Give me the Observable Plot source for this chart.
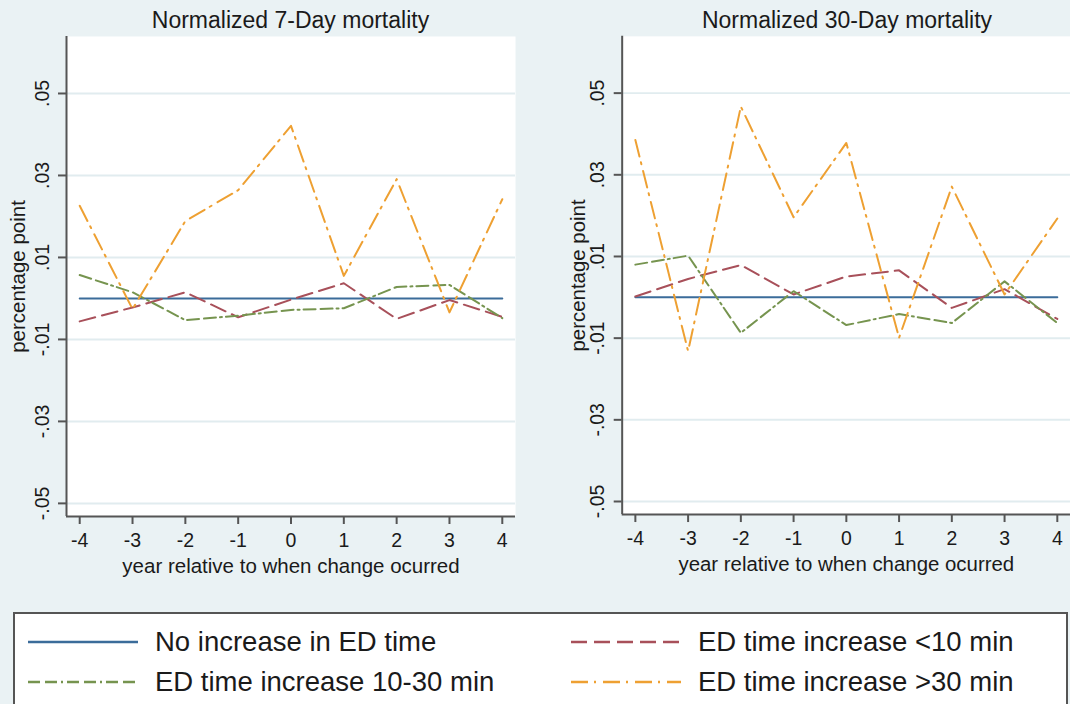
<!DOCTYPE html>
<html>
<head>
<meta charset="utf-8">
<script src="https://cdn.jsdelivr.net/npm/d3@7"></script>
<script src="https://cdn.jsdelivr.net/npm/@observablehq/plot@0.6"></script>
<style>
  html, body { margin: 0; padding: 0; background: #eaf2f4; }
  #wrap { position: relative; width: 1070px; height: 704px; overflow: hidden; background: #eaf2f4;
          font-family: "Liberation Sans", Arial, Helvetica, sans-serif; color: #1a1a1a; }
  .panel { position: absolute; top: 0; }
  .title { position: absolute; top: 7px; font-size: 23px; text-align: center; white-space: nowrap; }
  #legend { position: absolute; left: 13px; top: 612px; width: 1055px; height: 110px; background: #fff;
            border: 2px solid #555; box-sizing: border-box; }
  .item { position: absolute; display: flex; align-items: center; font-size: 27.5px; white-space: nowrap; }
  .item svg { margin-right: 16px; }
</style>
</head>
<body>
<div id="wrap">
  <div class="title" id="t1"></div>
  <div class="title" id="t2"></div>
  <div class="panel" id="p1" style="left:0px"></div>
  <div class="panel" id="p2" style="left:535px"></div>
  <div id="legend"></div>
</div>
<script>
// ---------- data ----------
const years = [-4, -3, -2, -1, 0, 1, 2, 3, 4];
const seriesNames = ["No increase in ED time", "ED time increase <10 min", "ED time increase 10-30 min", "ED time increase >30 min"];
const panelTitles = ["Normalized 7-Day mortality", "Normalized 30-Day mortality"];
const yTicks = [0.05, 0.03, 0.01, -0.01, -0.03, -0.05];
const xLabel = "year relative to when change ocurred";
const yLabel = "percentage point";

// 7-day mortality
const d7None  = [0, 0, 0, 0, 0, 0, 0, 0, 0];
const d7Lt10  = [-0.0056, -0.0022, 0.0015, -0.0046, -0.0003, 0.0037, -0.0050, -0.0004, -0.0045];
const d7Mid   = [0.0057, 0.0015, -0.0053, -0.0042, -0.0028, -0.0024, 0.0028, 0.0033, -0.0048];
const d7Gt30  = [0.0226, -0.0026, 0.0189, 0.0264, 0.0421, 0.0055, 0.0291, -0.0034, 0.0242];

// 30-day mortality
const d30None = [0, 0, 0, 0, 0, 0, 0, 0, 0];
const d30Lt10 = [0.0002, 0.0045, 0.0079, 0.0007, 0.0051, 0.0066, -0.0026, 0.0020, -0.0053];
const d30Mid  = [0.0080, 0.0102, -0.0087, 0.0015, -0.0068, -0.0041, -0.0063, 0.0039, -0.0063];
const d30Gt30 = [0.0385, -0.0132, 0.0467, 0.0196, 0.0378, -0.0099, 0.0271, 0.0007, 0.0193];

// ---------- styles ----------
const colors = ["#3b6c9a", "#a8505a", "#76944f", "#eea032"];
const dashes = [null, "16,7", "12,5,12,4,2,4", "17,6,2,7"];
const xDomain = [-4.25, 4.25];
const yDomain = [-0.0532, 0.0639];
const fmt = d => (d < 0 ? "-" : "") + Math.abs(d).toFixed(2).replace(/^0/, "");

function panel(seriesValues, opts) {
  const marks = [
    Plot.frame({fill: "white", stroke: null}),
    Plot.ruleY(yTicks, {stroke: "#e1ecef", strokeWidth: 2}),
    Plot.ruleX([xDomain[0]], {stroke: "#555", strokeWidth: 2}),
    Plot.ruleY([yDomain[0]], {stroke: "#555", strokeWidth: 2}),
    Plot.axisX({ticks: years, tickSize: 8, tickPadding: 9, fontSize: 19.5, tickFormat: d => String(d), label: null, stroke: "#555", strokeWidth: 2}),
    Plot.axisY({ticks: yTicks, tickSize: 8, tickFormat: () => "", label: null, stroke: "#555", strokeWidth: 2}),
    Plot.text(yTicks, {y: d => d, text: fmt, frameAnchor: "left", dx: -24, rotate: -90, textAnchor: "middle", lineAnchor: "middle", fontSize: 19.5, fill: "#1a1a1a"}),
    Plot.text([yLabel], {text: d => d, frameAnchor: "left", dx: opts.yLabelOffset, rotate: -90, textAnchor: "middle", lineAnchor: "middle", fontSize: 20.5, fill: "#1a1a1a"}),
    Plot.text([xLabel], {text: d => d, frameAnchor: "bottom", dy: 50, textAnchor: "middle", lineAnchor: "middle", fontSize: 20.5, fill: "#1a1a1a"})
  ];
  seriesValues.forEach((vals, i) => {
    const rows = years.map((yr, j) => ({year: yr, value: vals[j]}));
    marks.push(Plot.line(rows, {x: "year", y: "value", stroke: colors[i], strokeWidth: 2,
      strokeDasharray: dashes[i] ?? undefined}));
  });
  return Plot.plot({
    width: opts.width, height: 580,
    marginLeft: opts.marginLeft, marginRight: opts.marginRight, marginTop: 36, marginBottom: 64,
    style: {background: "transparent", fontFamily: "'Liberation Sans', Arial, sans-serif", color: "#1a1a1a"},
    x: {domain: xDomain},
    y: {domain: yDomain},
    marks
  });
}

document.getElementById("p1").appendChild(panel([d7None, d7Lt10, d7Mid, d7Gt30], {width: 535, marginLeft: 66, marginRight: 20, yLabelOffset: -48}));
document.getElementById("p2").appendChild(panel([d30None, d30Lt10, d30Mid, d30Gt30], {width: 537, marginLeft: 87, marginRight: 0, yLabelOffset: -44}));

const t1 = document.getElementById("t1");
t1.textContent = panelTitles[0];
t1.style.left = "66px"; t1.style.width = "449px";
const t2 = document.getElementById("t2");
t2.textContent = panelTitles[1];
t2.style.left = "622px"; t2.style.width = "450px";

// ---------- legend ----------
const legend = document.getElementById("legend");
const pos = [[12, 12], [555, 12], [12, 52], [555, 52]];
const order = [0, 1, 2, 3];
order.forEach((i, k) => {
  const div = document.createElement("div");
  div.className = "item";
  div.style.left = pos[k][0] + "px";
  div.style.top = pos[k][1] + "px";
  const ns = "http://www.w3.org/2000/svg";
  const svg = document.createElementNS(ns, "svg");
  svg.setAttribute("width", 112); svg.setAttribute("height", 30);
  const ln = document.createElementNS(ns, "line");
  ln.setAttribute("x1", 1); ln.setAttribute("x2", 111);
  ln.setAttribute("y1", 15); ln.setAttribute("y2", 15);
  ln.setAttribute("stroke", colors[i]); ln.setAttribute("stroke-width", 2.5);
  if (dashes[i]) ln.setAttribute("stroke-dasharray", dashes[i]);
  svg.appendChild(ln);
  div.appendChild(svg);
  const sp = document.createElement("span");
  sp.textContent = seriesNames[i];
  div.appendChild(sp);
  legend.appendChild(div);
});
</script>
</body>
</html>
